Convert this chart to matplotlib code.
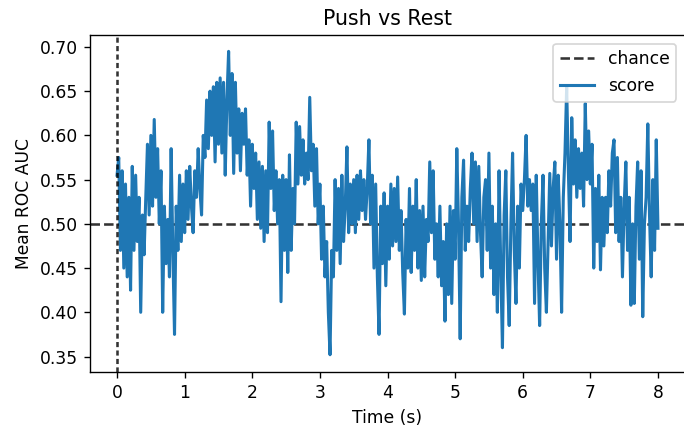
import numpy as np
import matplotlib
matplotlib.use("Agg")
import matplotlib.pyplot as plt

title = "Push vs Rest"
xlabel = "Time (s)"
ylabel = "Mean ROC AUC"
chance_level = 0.5
onset_time = 0.0
t_start, t_end = 0.0, 8.0

scores = [
    # 0.0 - 0.475
    0.555, 0.575, 0.470, 0.560, 0.450, 0.545, 0.440, 0.530, 0.425, 0.565,
    0.470, 0.555, 0.480, 0.530, 0.400, 0.510, 0.465, 0.530, 0.590, 0.510,
    # 0.5 - 0.975
    0.600, 0.520, 0.618, 0.530, 0.585, 0.500, 0.560, 0.400, 0.520, 0.455,
    0.505, 0.440, 0.585, 0.470, 0.375, 0.520, 0.470, 0.555, 0.480, 0.545,
    # 1.0 - 1.475
    0.490, 0.560, 0.505, 0.565, 0.520, 0.490, 0.560, 0.530, 0.585, 0.540,
    0.510, 0.600, 0.575, 0.640, 0.585, 0.650, 0.600, 0.655, 0.570, 0.660,
    # 1.5 - 1.975
    0.590, 0.665, 0.580, 0.660, 0.555, 0.640, 0.695, 0.600, 0.670, 0.557,
    0.660, 0.580, 0.630, 0.560, 0.625, 0.590, 0.630, 0.555, 0.595, 0.520,
    # 2.0 - 2.475
    0.590, 0.540, 0.580, 0.505, 0.570, 0.495, 0.565, 0.480, 0.560, 0.490,
    0.615, 0.540, 0.605, 0.515, 0.560, 0.500, 0.550, 0.412, 0.555, 0.470,
    # 2.5 - 2.975
    0.550, 0.445, 0.578, 0.470, 0.540, 0.500, 0.615, 0.545, 0.610, 0.555,
    0.595, 0.545, 0.580, 0.550, 0.643, 0.560, 0.590, 0.520, 0.585, 0.500,
    # 3.0 - 3.475
    0.545, 0.460, 0.520, 0.440, 0.480, 0.400, 0.352, 0.470, 0.440, 0.550,
    0.470, 0.540, 0.455, 0.555, 0.480, 0.520, 0.587, 0.490, 0.545, 0.500,
    # 3.5 - 3.975
    0.550, 0.490, 0.555, 0.505, 0.560, 0.515, 0.550, 0.505, 0.540, 0.595,
    0.500, 0.555, 0.450, 0.545, 0.440, 0.375, 0.520, 0.455, 0.535, 0.430,
    # 4.0 - 4.475
    0.520, 0.460, 0.545, 0.475, 0.540, 0.480, 0.553, 0.470, 0.515, 0.445,
    0.398, 0.505, 0.450, 0.540, 0.445, 0.520, 0.470, 0.550, 0.450, 0.515,
    # 4.5 - 4.975
    0.436, 0.520, 0.440, 0.505, 0.480, 0.570, 0.490, 0.560, 0.460, 0.500,
    0.440, 0.520, 0.430, 0.480, 0.390, 0.500, 0.420, 0.520, 0.410, 0.515,
    # 5.0 - 5.475
    0.460, 0.585, 0.500, 0.370, 0.530, 0.572, 0.470, 0.520, 0.480, 0.540,
    0.580, 0.500, 0.570, 0.480, 0.565, 0.490, 0.440, 0.530, 0.550, 0.470,
    # 5.5 - 5.975
    0.580, 0.450, 0.520, 0.420, 0.500, 0.400, 0.560, 0.450, 0.360, 0.510,
    0.560, 0.440, 0.385, 0.500, 0.580, 0.470, 0.410, 0.520, 0.450, 0.545,
    # 6.0 - 6.475
    0.515, 0.550, 0.600, 0.520, 0.550, 0.515, 0.545, 0.410, 0.555, 0.460,
    0.385, 0.500, 0.555, 0.450, 0.400, 0.480, 0.557, 0.475, 0.540, 0.570,
    # 6.5 - 6.975
    0.460, 0.555, 0.500, 0.400, 0.530, 0.580, 0.655, 0.560, 0.480, 0.620,
    0.545, 0.595, 0.530, 0.585, 0.540, 0.580, 0.520, 0.636, 0.550, 0.605,
    # 7.0 - 7.475
    0.545, 0.590, 0.450, 0.540, 0.480, 0.555, 0.448, 0.530, 0.475, 0.530,
    0.490, 0.560, 0.520, 0.580, 0.595, 0.490, 0.575, 0.480, 0.530, 0.440,
    # 7.5 - 8.0
    0.520, 0.570, 0.470, 0.530, 0.408, 0.500, 0.410, 0.520, 0.570, 0.460,
    0.560, 0.395, 0.500, 0.530, 0.613, 0.510, 0.440, 0.550, 0.470, 0.595,
    0.495,
]

times = np.linspace(t_start, t_end, len(scores))

DPI = 123
fig = plt.figure(figsize=(684 / DPI, 427 / DPI), dpi=DPI)
ax = fig.add_axes([90 / 684, 1 - 372 / 427, (685 - 90) / 684, (372 - 35) / 427])

ax.axhline(chance_level, color="k", linestyle="--", alpha=0.8, label="chance")
ax.plot(times, scores, color="#1f77b4", linewidth=1.8, label="score")
ax.axvline(onset_time, color="k", linestyle="--", dashes=(2.0, 1.3), alpha=0.8)

ax.set_xlim(-0.4, 8.4)
ax.set_ylim(0.3325, 0.7135)
ax.set_xticks(range(0, 9))
ax.set_yticks([0.35, 0.40, 0.45, 0.50, 0.55, 0.60, 0.65, 0.70])
ax.yaxis.set_major_formatter(matplotlib.ticker.FormatStrFormatter("%.2f"))
ax.set_xlabel(xlabel)
ax.set_ylabel(ylabel)
ax.set_title(title)
ax.legend(loc="upper right")

fig.savefig("out.png", dpi=DPI)
